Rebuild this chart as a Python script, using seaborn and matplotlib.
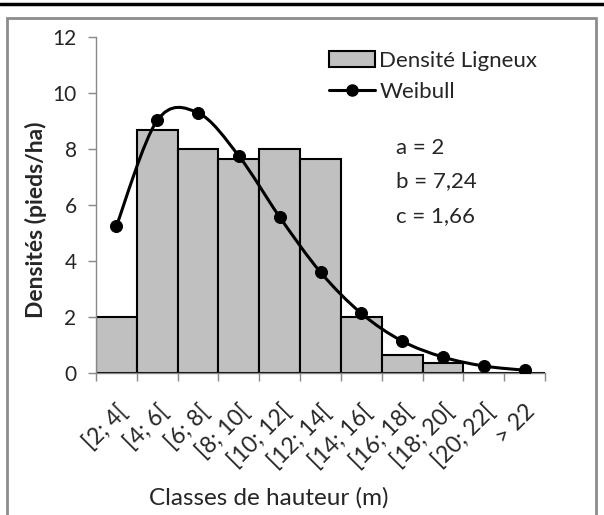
import numpy as np
import pandas as pd
import seaborn as sns
import matplotlib.pyplot as plt
from matplotlib.path import Path
from matplotlib.patches import PathPatch, Patch, Rectangle
from matplotlib.lines import Line2D
from matplotlib.transforms import ScaledTranslation

# Height classes and densities
classes = ['[2; 4[', '[4; 6[', '[6; 8[', '[8; 10[', '[10; 12[', '[12; 14[',
           '[14; 16[', '[16; 18[', '[18; 20[', '[20; 22[', '> 22']
densite = [2.0, 8.68, 8.0, 7.64, 8.0, 7.64, 2.0, 0.64, 0.36, 0.0, 0.0]
weibull = [5.25, 9.02, 9.29, 7.75, 5.57, 3.6, 2.13, 1.14, 0.57, 0.25, 0.1]

df = pd.DataFrame({'classe': classes, 'densite': densite, 'weibull': weibull})

sns.set_style('white')
plt.rcParams['font.family'] = ['Lato', 'DejaVu Sans']

fig = plt.figure(figsize=(6.04, 5.15), dpi=100)
ax = fig.add_axes([96 / 604, 1 - 373 / 515, 449 / 604, 336 / 515])

sns.barplot(data=df, x='classe', y='densite', color='#c0c0c0', saturation=1,
            edgecolor='black', linewidth=1.5, width=1.0, ax=ax)

# smoothed line (Catmull-Rom style, as in the spreadsheet chart)
x = np.arange(len(weibull), dtype=float)
y = np.array(weibull)
verts = [(x[0], y[0])]
codes = [Path.MOVETO]
n = len(x)
for i in range(n - 1):
    p0 = np.array([x[max(i - 1, 0)], y[max(i - 1, 0)]])
    p1 = np.array([x[i], y[i]])
    p2 = np.array([x[i + 1], y[i + 1]])
    p3 = np.array([x[min(i + 2, n - 1)], y[min(i + 2, n - 1)]])
    c1 = p1 + (p2 - p0) / 6
    c2 = p2 - (p3 - p1) / 6
    verts += [tuple(c1), tuple(c2), tuple(p2)]
    codes += [Path.CURVE4] * 3
ax.add_patch(PathPatch(Path(verts, codes), facecolor='none', edgecolor='black',
                       linewidth=2.2, zorder=3))
sns.scatterplot(x=x, y=y, color='black', s=75, edgecolor='black', zorder=4, ax=ax)

ax.set_xlim(-0.5, len(classes) - 0.5)
ax.set_ylim(0, 12)
ax.set_yticks(range(0, 13, 2))
ax.set_xticks(range(len(classes)))
ax.set_xticklabels(classes, rotation=45, ha='right', rotation_mode='anchor')
shift = ScaledTranslation(6 / 72, 0, fig.dpi_scale_trans)
for lab in ax.get_xticklabels():
    lab.set_transform(lab.get_transform() + shift)
ax.set_xticks(np.arange(-0.5, len(classes)), minor=True)
ax.tick_params(axis='x', which='major', length=0, pad=20, labelsize=16.5)
ax.tick_params(axis='x', which='minor', length=6, width=1, color='#888888',
               direction='out', bottom=True)
ax.tick_params(axis='y', length=6, width=1, color='#888888', direction='out',
               left=True, labelsize=15, pad=8)

for side in ['top', 'right']:
    ax.spines[side].set_visible(False)
for side in ['left', 'bottom']:
    ax.spines[side].set_color('#888888')
    ax.spines[side].set_linewidth(1)

ax.set_xlabel('Classes de hauteur (m)', fontsize=17.5)
ax.set_ylabel('Densités (pieds/ha)', fontsize=16.5, fontweight='bold')
ax.xaxis.set_label_coords((269 - 96) / 449, (373 - 498) / 336)
ax.xaxis.label.set_va('center')
ax.yaxis.set_label_coords((36 - 96) / 449, (373 - 220) / 336)
ax.yaxis.label.set_va('center')

handles = [Patch(facecolor='#c0c0c0', edgecolor='black', linewidth=1.5),
           Line2D([], [], color='black', linewidth=2.2, marker='o', markersize=8)]
ax.legend(handles, ['Densité Ligneux', 'Weibull'], frameon=False, fontsize=16,
          loc='upper left', bbox_to_anchor=((329 - 96) / 449, (373 - 51) / 336),
          handlelength=2.07, handletextpad=0.2, labelspacing=0.5,
          borderaxespad=0, borderpad=0)

for txt, yy in [('a = 2', 148), ('b = 7,24', 181), ('c = 1,66', 216)]:
    fig.text(396 / 604, 1 - yy / 515, txt, fontsize=16, va='center', ha='left')

# frame around the chart area and the black rule at the top
fig.add_artist(Rectangle((7 / 604, -0.1), 589 / 604, 1.1 - 18 / 515,
                         transform=fig.transFigure, facecolor='none',
                         edgecolor='#8c8c8c', linewidth=2))
fig.add_artist(Line2D([0, 1], [1 - 3.5 / 515] * 2, transform=fig.transFigure,
                      color='black', linewidth=2.5))

fig.savefig('out.png', dpi=100)
